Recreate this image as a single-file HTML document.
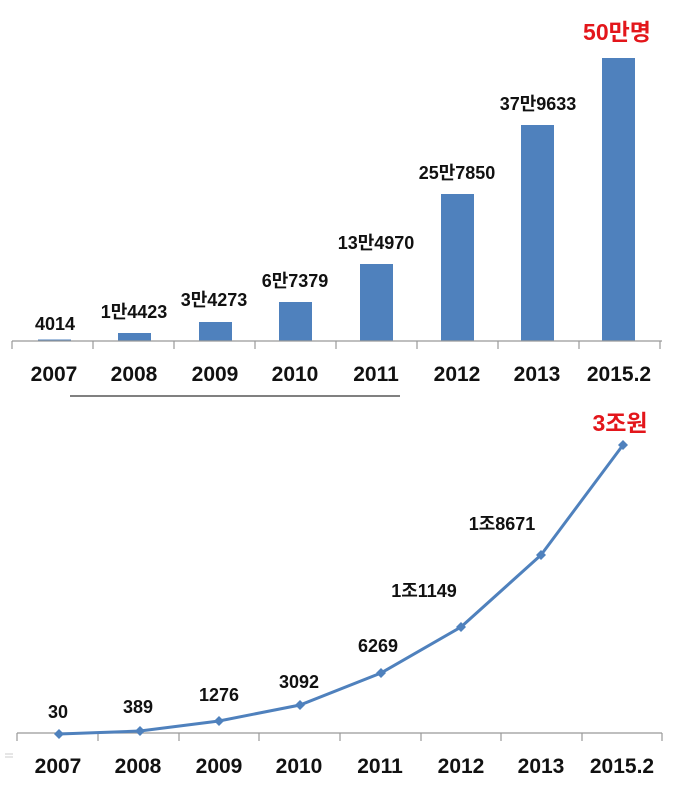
<!DOCTYPE html>
<html><head><meta charset="utf-8"><style>
body{margin:0;background:#fff;}
svg text{font-family:"Liberation Sans","Noto Sans CJK KR",sans-serif;font-weight:bold;}
</style></head><body>
<svg width="674" height="802" viewBox="0 0 674 802" xmlns="http://www.w3.org/2000/svg">
<g fill="#4f81bd">
<rect x="38" y="339.5" width="33" height="2"/>
<rect x="118" y="333" width="33" height="8"/>
<rect x="199" y="322" width="33" height="19"/>
<rect x="279" y="302" width="33" height="39"/>
<rect x="360" y="264" width="33" height="77"/>
<rect x="441" y="194" width="33" height="147"/>
<rect x="521" y="125" width="33" height="216"/>
<rect x="602" y="58" width="33" height="283"/>
</g>
<g stroke="#999" stroke-width="1.2">
<line x1="12" y1="341" x2="662" y2="341"/>
<line x1="12" y1="341" x2="12" y2="349"/><line x1="93" y1="341" x2="93" y2="349"/>
<line x1="174" y1="341" x2="174" y2="349"/><line x1="255" y1="341" x2="255" y2="349"/>
<line x1="336" y1="341" x2="336" y2="349"/><line x1="417" y1="341" x2="417" y2="349"/>
<line x1="498" y1="341" x2="498" y2="349"/><line x1="579" y1="341" x2="579" y2="349"/>
<line x1="660" y1="341" x2="660" y2="349"/>
</g>
<g font-size="18" text-anchor="middle" fill="#111">
<text x="55" y="330">4014</text>
<text x="134" y="318">1만4423</text>
<text x="214" y="306">3만4273</text>
<text x="295" y="287">6만7379</text>
<text x="376" y="249">13만4970</text>
<text x="457" y="179">25만7850</text>
<text x="538" y="110">37만9633</text>
</g>
<text x="617" y="40" font-size="23" text-anchor="middle" fill="#e3161b">50만명</text>
<g font-size="21" text-anchor="middle" fill="#111">
<text x="54" y="381">2007</text><text x="134" y="381">2008</text><text x="215" y="381">2009</text>
<text x="295" y="381">2010</text><text x="376" y="381">2011</text><text x="457" y="381">2012</text>
<text x="537" y="381">2013</text><text x="619" y="381">2015.2</text>
</g>
<line x1="70" y1="396" x2="400" y2="396" stroke="#000" stroke-width="1"/>
<g stroke="#999" stroke-width="1.2">
<line x1="17" y1="733" x2="662" y2="733"/>
<line x1="17" y1="733" x2="17" y2="741"/><line x1="98" y1="733" x2="98" y2="741"/>
<line x1="179" y1="733" x2="179" y2="741"/><line x1="259" y1="733" x2="259" y2="741"/>
<line x1="340" y1="733" x2="340" y2="741"/><line x1="421" y1="733" x2="421" y2="741"/>
<line x1="501" y1="733" x2="501" y2="741"/><line x1="582" y1="733" x2="582" y2="741"/>
<line x1="662" y1="733" x2="662" y2="741"/>
</g>
<line x1="5" y1="754" x2="13" y2="754" stroke="#ccc"/><line x1="5" y1="757" x2="13" y2="757" stroke="#ccc"/>
<polyline fill="none" stroke="#4f81bd" stroke-width="3" points="59,734 140,731 219,721 300,705 381,673 461,627 541,555 623,445"/>
<g fill="#4f81bd">
<path d="M59,729 l5,5 -5,5 -5,-5z"/><path d="M140,726 l5,5 -5,5 -5,-5z"/>
<path d="M219,716 l5,5 -5,5 -5,-5z"/><path d="M300,700 l5,5 -5,5 -5,-5z"/>
<path d="M381,668 l5,5 -5,5 -5,-5z"/><path d="M461,622 l5,5 -5,5 -5,-5z"/>
<path d="M541,550 l5,5 -5,5 -5,-5z"/><path d="M623,440 l5,5 -5,5 -5,-5z"/>
</g>
<g font-size="18" text-anchor="middle" fill="#111">
<text x="58" y="718">30</text>
<text x="138" y="713">389</text>
<text x="219" y="701">1276</text>
<text x="299" y="688">3092</text>
<text x="378" y="652">6269</text>
<text x="424" y="597">1조1149</text>
<text x="502" y="530">1조8671</text>
</g>
<text x="620" y="431" font-size="23" text-anchor="middle" fill="#e3161b">3조원</text>
<g font-size="21" text-anchor="middle" fill="#111">
<text x="58" y="773">2007</text><text x="138" y="773">2008</text><text x="219" y="773">2009</text>
<text x="299" y="773">2010</text><text x="380" y="773">2011</text><text x="461" y="773">2012</text>
<text x="541" y="773">2013</text><text x="622" y="773">2015.2</text>
</g>
</svg>
</body></html>
